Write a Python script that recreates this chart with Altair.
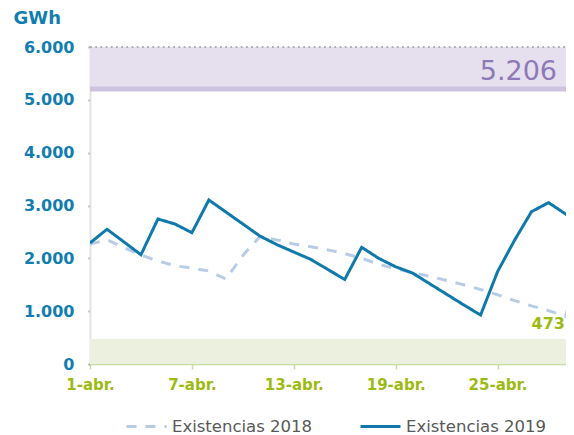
import altair as alt
import pandas as pd

# ---- data ----
days = list(range(1, 31))
exist_2018 = [2270, 2350, 2205, 2063, 1950, 1860, 1815, 1760, 1610, 2055,
              2410, 2350, 2270, 2220, 2160, 2090, 2000, 1890, 1800, 1730,
              1660, 1580, 1500, 1410, 1310, 1200, 1100, 1010, 900, 2000]
exist_2019 = [2290, 2550, 2310, 2068, 2745, 2650, 2485, 3104, 2877, 2650,
              2423, 2260, 2120, 1980, 1790, 1600, 2209, 2000, 1840, 1720,
              1520, 1320, 1120, 927, 1747, 2343, 2883, 3054, 2841, 2640]
series_names = ["Existencias 2018", "Existencias 2019"]
max_level = 5206
min_level = 473
top_level = 6000
y_ticks = [0, 1000, 2000, 3000, 4000, 5000, 6000]
x_ticks = [1, 7, 13, 19, 25]
x_domain = [1, 29.03]

def es_num(v):
    return f"{v:,}".replace(",", ".")

df = pd.DataFrame({
    "day": days * 2,
    "value": exist_2018 + exist_2019,
    "serie": [series_names[0]] * len(days) + [series_names[1]] * len(days),
})

W, H = 476, 317
BLUE = "#127db0"
GREEN = "#9cbb12"
FONT = "DejaVu Sans"

x_scale = alt.Scale(domain=x_domain, nice=False, zero=False)
y_scale = alt.Scale(domain=[0, top_level], nice=False)

base = alt.Chart(df)

green_band = alt.Chart(pd.DataFrame({"lo": [0], "hi": [min_level]})).mark_rect(
    color="#ebf0df"
).encode(
    x=alt.value(0), x2=alt.value("width"),
    y=alt.Y("lo:Q", scale=y_scale), y2="hi:Q",
)

purple_band = alt.Chart(pd.DataFrame({"lo": [max_level], "hi": [top_level]})).mark_rect(
    color="#e6e0ee"
).encode(
    x=alt.value(0), x2=alt.value("width"),
    y=alt.Y("lo:Q", scale=y_scale), y2="hi:Q",
)

purple_rule = alt.Chart(pd.DataFrame({"v": [max_level]})).mark_rule(
    color="#cdc3df", strokeWidth=5
).encode(y=alt.Y("v:Q", scale=y_scale), x=alt.value(0), x2=alt.value("width"))

top_rule = alt.Chart(pd.DataFrame({"v": [top_level]})).mark_rule(
    color="#9a9a9a", strokeWidth=1.6, strokeDash=[1.8, 3.4]
).encode(y=alt.Y("v:Q", scale=y_scale), x=alt.value(0), x2=alt.value("width"))

max_text = alt.Chart(pd.DataFrame({"v": [max_level], "t": [es_num(max_level)]})).mark_text(
    align="right", baseline="alphabetic", dx=-9, dy=-8.5,
    font=FONT, fontSize=27, color="#8e79b8"
).encode(y=alt.Y("v:Q", scale=y_scale), x=alt.value("width"), text="t:N")

min_text = alt.Chart(pd.DataFrame({"v": [min_level], "t": [es_num(min_level)]})).mark_text(
    align="right", baseline="alphabetic", dx=-1, dy=-10,
    font=FONT, fontSize=16, fontWeight="bold", color=GREEN
).encode(y=alt.Y("v:Q", scale=y_scale), x=alt.value("width"), text="t:N")

lines = base.mark_line(clip=True, strokeWidth=3).encode(
    x=alt.X("day:Q", scale=x_scale, title=None,
            axis=alt.Axis(values=x_ticks, labelExpr="datum.value + '-abr.'",
                          labelColor=GREEN, labelFont=FONT, labelFontSize=15,
                          labelFontWeight="bold", labelPadding=8,
                          domainColor="#c9dca0", domainWidth=1.5,
                          tickColor="#c9dca0", tickSize=5, tickWidth=1.5,
                          grid=False, labelFlush=False)),
    y=alt.Y("value:Q", scale=y_scale, title="GWh",
            axis=alt.Axis(values=y_ticks,
                          labelExpr="replace(format(datum.value, ','), ',', '.')",
                          labelColor=BLUE, labelFont=FONT, labelFontSize=16,
                          labelFontWeight="bold", labelPadding=14,
                          domainColor="#e4e4e4", domainWidth=2,
                          tickColor="#999999", tickSize=2, tickWidth=2,
                          grid=False,
                          titleAngle=0, titleAlign="left", titleBaseline="alphabetic",
                          titleX=-77, titleY=-24, titleColor=BLUE, titleFont=FONT,
                          titleFontSize=18, titleFontWeight="bold")),
    color=alt.Color("serie:N", scale=alt.Scale(domain=series_names,
                                                range=["#b7cce6", "#0f79ab"]),
                    title=None),
    strokeDash=alt.StrokeDash("serie:N", scale=alt.Scale(domain=series_names,
                                                         range=[[10, 9], [1, 0]]),
                              title=None),
    order="day:Q",
)

chart = alt.layer(
    green_band, purple_band, purple_rule, top_rule, lines, max_text, min_text
).properties(
    width=W, height=H,
    autosize=alt.AutoSizeParams(type="none"),
    padding={"left": 82, "top": 39, "right": 0, "bottom": 71},
).configure_view(stroke=None).configure_legend(
    orient="none", legendX=35, legendY=358, direction="horizontal",
    symbolType="stroke", symbolStrokeWidth=3, symbolSize=1600,
    labelFont=FONT, labelFontSize=16.5, labelColor="#595959",
    labelOffset=4, columnPadding=41,
)

chart.save("out.html", embed_options={"renderer": "svg", "actions": False})
